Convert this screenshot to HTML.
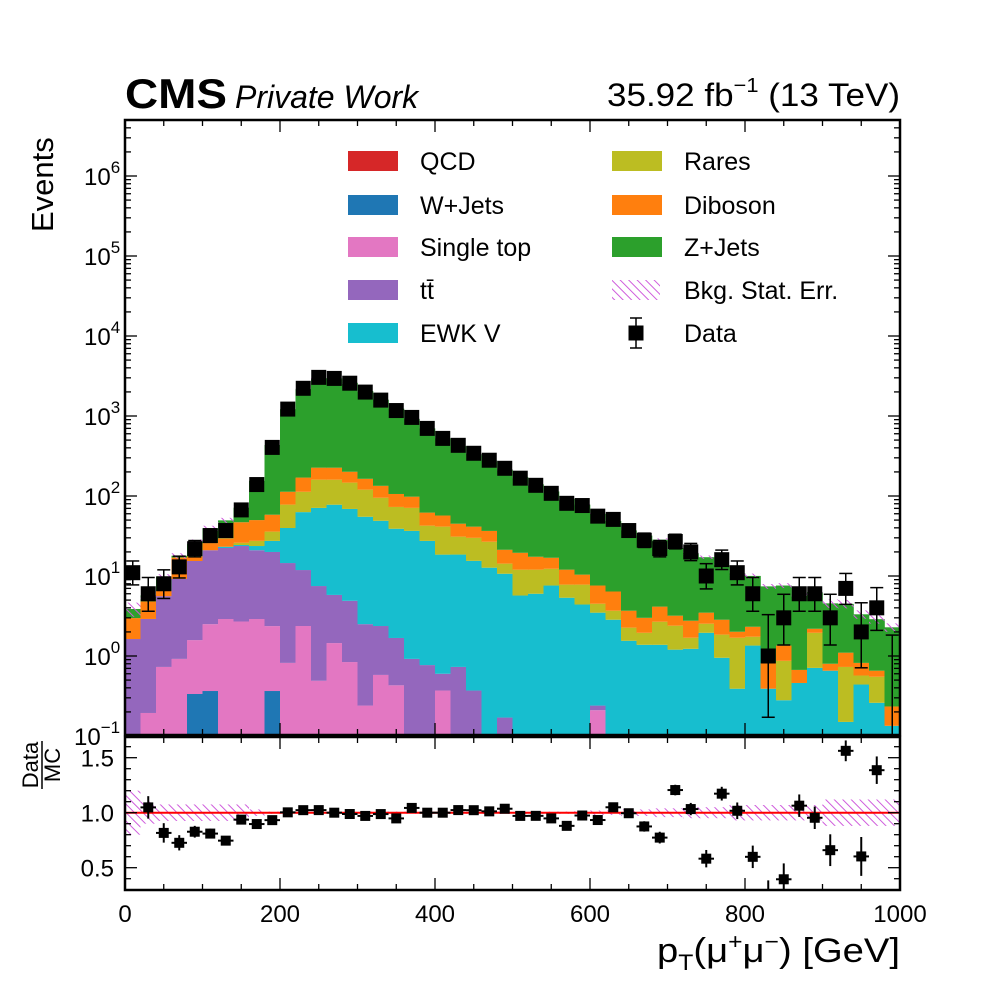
<!DOCTYPE html>
<html><head><meta charset="utf-8">
<style>
html,body{margin:0;padding:0;background:#fff;}
svg{display:block;font-family:"Liberation Sans","DejaVu Sans",sans-serif;}
</style></head>
<body>
<svg id="chart" width="1000" height="1000" viewBox="0 0 1000 1000" xmlns="http://www.w3.org/2000/svg">
<defs>
<pattern id="hatch" patternUnits="userSpaceOnUse" width="6" height="6" patternTransform="rotate(-45)">
<line x1="0" y1="0" x2="0" y2="6" stroke="#cf5ddc" stroke-width="2"/>
</pattern>
<clipPath id="mainClip"><rect x="125" y="120" width="775" height="615"/></clipPath>
<clipPath id="ratioClip"><rect x="125" y="737" width="775" height="153"/></clipPath>
</defs>
<rect x="0" y="0" width="1000" height="1000" fill="#fff"/>
<g id="mainPlot" clip-path="url(#mainClip)"></g>
<g id="ratioPlot" clip-path="url(#ratioClip)"></g>
<g id="axes"></g>
<text x="125" y="108" font-size="42" font-weight="bold" textLength="102" lengthAdjust="spacingAndGlyphs">CMS</text>
<text x="235" y="108" font-size="32" font-style="italic">Private Work</text>
<text x="900" y="106" font-size="32" text-anchor="end" textLength="293" lengthAdjust="spacingAndGlyphs">35.92 fb<tspan font-size="20" dy="-14">−1</tspan><tspan dy="14"> (13 TeV)</tspan></text>
<text transform="translate(53,232) rotate(-90)" font-size="31">Events</text>
<text x="900" y="962" font-size="34" text-anchor="end" textLength="243" lengthAdjust="spacingAndGlyphs">p<tspan font-size="22" dy="8">T</tspan><tspan dy="-8">(μ</tspan><tspan font-size="22" dy="-13">+</tspan><tspan dy="13">μ</tspan><tspan font-size="22" dy="-13">−</tspan><tspan dy="13">) [GeV]</tspan></text>
<g transform="translate(42,765) rotate(-90)">
<text x="0" y="-4" font-size="22" text-anchor="middle">Data</text>
<line x1="-24" y1="0" x2="24" y2="0" stroke="#000" stroke-width="1.5"/>
<text x="0" y="18" font-size="22" text-anchor="middle">MC</text>
</g>
<g id="legend"></g>
</svg>
<script>
const NS="http://www.w3.org/2000/svg";
const binEdges0=0, binWidth=20, nBins=50;
const seriesNames=["QCD","W+Jets","Single top","tt̄","EWK V","Rares","Diboson","Z+Jets"];
const seriesColors=["#d62728","#1f77b4","#e377c2","#9467bd","#17becf","#bcbd22","#ff7f0e","#2ca02c"];
const qcd=[0,0,0,0,0,0,0,0,0,0,0,0,0,0,0,0,0,0,0,0,0,0,0,0,0,0,0,0,0,0,0,0,0,0,0,0,0,0,0,0,0,0,0,0,0,0,0,0,0,0];
const wjets=[0,0,0,0,0.335,0.365,0,0,0,0.365,0,0,0,0,0,0,0,0,0,0,0,0,0,0,0,0,0,0,0,0,0,0,0,0,0,0,0,0,0,0,0,0,0,0,0,0,0,0,0,0];
const singletop=[0,0.194,0.73,0.92,1.245,2.135,2.9,2.7,2.9,2.0,0.82,2.37,0.49,1.45,0.84,0.24,0.58,0.43,0,0,0.37,0,0,0,0,0,0,0,0,0,0.21,0,0,0,0,0,0,0,0,0,0,0,0,0,0,0,0,0,0,0];
const ttbar=[1.63,2.71,4.87,8.28,13.82,18.5,19.5,21,18.1,17.6,13.7,9.5,7.0,4.35,4.06,2.26,1.79,1.25,0.92,0.77,0.23,0.73,0.37,0,0.17,0,0,0,0,0,0.03,0,0,0,0,0,0,0,0,0,0,0,0,0,0,0,0,0,0,0];
const ewk=[0,0,0,0,0,0,0.8,0.7,2.7,7.5,25.3,51,63.5,72,64,52.5,46.6,37.3,35.7,26.7,17.9,17.8,15.1,12.7,10.5,5.7,6,7.6,5.35,4.4,3.24,2.84,1.55,1.38,1.38,1.2,1.23,1.95,0.95,0.39,1.35,0.39,0.28,0.46,0.71,0.655,0.15,0.44,0.26,0.134];
const rares=[0,0,0,0,0,0,0,1.6,3.8,8.4,38.2,50,89,82,78,65,46,34,34.4,15.1,22.9,12.5,14.5,14.1,3.6,6.3,6,4.7,2.45,3.4,1.02,0.84,0.71,0.57,1.3,1.19,0.46,0.58,0.9,1.3,0.39,0,0.59,0,1.24,0,0.58,0.13,0.29,0];
const diboson=[1.35,1.9,0.9,7.8,2.2,4.8,6.4,21,22.5,22.5,35,57,66,66,54,44,39,33,27,19.4,15.6,14,11.4,9.8,7,7.5,5.4,4.6,4.2,2.6,3.1,2.72,1.42,1.05,1.46,0.8,1.07,0.95,0.99,0.32,0.58,0.43,0.48,0.21,0.24,0.145,0.37,0.25,0.105,0.1];
const zjets=[0.89,0.92,3.3,0.9,9,13.7,20,24.5,105,376,1103,2000,2744,2724,2400,1886,1466,1128,822,638,468,375,293,240,193,152.5,122.6,97,80,67.6,52.4,42.2,33.5,29,24.3,19.2,16.6,13.7,10.8,8.8,7.7,6.6,6.25,4.97,4.1,3.75,3.38,2.5,2.23,2.05];
const dataCounts=[11,6,8,13,22,32,37,67,139,405,1220,2220,3040,2950,2570,1990,1580,1170,960,700,525,430,342,280,222,167,136,108,81,76,56,51,37,28,22,27,20,10,16,11,6,1,3,6,6,3,7,2,4,0];
const bkgRelErr=[0.2,0.1,0.075,0.075,0.075,0.075,0.075,0.075,0.03,0.01,0.01,0.01,0.01,0.01,0.01,0.01,0.01,0.01,0.01,0.01,0.01,0.01,0.01,0.01,0.01,0.01,0.01,0.01,0.01,0.015,0.02,0.02,0.03,0.03,0.04,0.04,0.05,0.05,0.05,0.07,0.07,0.07,0.07,0.07,0.07,0.12,0.12,0.12,0.12,0.12];
const yTickExps=[-1,0,1,2,3,4,5,6];
const xTickLabels=[0,200,400,600,800,1000];
const ratioTickLabels=["0.5","1.0","1.5"];
const ratioTickVals=[0.5,1.0,1.5];

const X0=125,X1=900,Y0=120,Y1=735,RY0=737,RY1=890;
function xAt(g){return X0+(g/1000)*(X1-X0);}
function yAt(v){return 656-80*Math.log10(v);}
function yR(r){return 812.7-110*(r-1);}
function mk(tag,attrs,parent){const e=document.createElementNS(NS,tag);for(const k in attrs)e.setAttribute(k,attrs[k]);parent.appendChild(e);return e;}

const main=document.getElementById('mainPlot');
const ratio=document.getElementById('ratioPlot');
const axes=document.getElementById('axes');
const series=[qcd,wjets,singletop,ttbar,ewk,rares,diboson,zjets];
const total=[];
for(let i=0;i<nBins;i++){
  let cum=0;
  const xa=xAt(binEdges0+i*binWidth), xb=xAt(binEdges0+(i+1)*binWidth);
  for(let s=0;s<series.length;s++){
    const v=series[s][i]; if(!(v>0)){continue;}
    const lo=Math.max(cum,0.05), hi=cum+v; cum=hi;
    if(hi<=0.05) continue;
    const r=mk('rect',{x:xa,y:yAt(hi),width:xb-xa+0.3,height:Math.max(0,yAt(lo)-yAt(hi)),fill:seriesColors[s]},main);
    
    
  }
  total.push(cum);
}
for(let i=0;i<nBins;i++){
  const xa=xAt(i*binWidth), xb=xAt((i+1)*binWidth);
  const up=total[i]*(1+bkgRelErr[i]), dn=total[i]*(1-bkgRelErr[i]);
  const h=mk('rect',{x:xa,y:yAt(up),width:xb-xa,height:Math.max(1.5,yAt(dn)-yAt(up)),fill:"url(#hatch)"},main);
  
  
  const hr=mk('rect',{x:xa,y:yR(1+bkgRelErr[i]),width:xb-xa,height:Math.max(1.5,yR(1-bkgRelErr[i])-yR(1+bkgRelErr[i])),fill:"url(#hatch)"},ratio);
  
  
}
function poisLo(n){if(n<=0)return 0;return n*Math.pow(1-1/(9*n)-1/(3*Math.sqrt(n)),3);}
function poisHi(n){const m=n+1;return m*Math.pow(1-1/(9*m)+1/(3*Math.sqrt(m)),3);}
const rl=mk('line',{x1:X0,x2:X1,y1:yR(1),y2:yR(1),stroke:"#ff0000","stroke-width":2},ratio);


for(let i=0;i<nBins;i++){
  const n=dataCounts[i]; const cx=xAt((i+0.5)*binWidth);
  const hi=poisHi(n), lo=poisLo(n);
  const yh=yAt(hi), yl=lo>0?yAt(lo):800;
  const g=mk('g',{},main);
  
  
  mk('line',{x1:cx,x2:cx,y1:yh,y2:yl,stroke:"#000","stroke-width":1.5},g);
  mk('line',{x1:cx-6.5,x2:cx+6.5,y1:yh,y2:yh,stroke:"#000","stroke-width":1.5},g);
  if(lo>0)mk('line',{x1:cx-6.5,x2:cx+6.5,y1:yl,y2:yl,stroke:"#000","stroke-width":1.5},g);
  if(n>0)mk('rect',{x:cx-7.5,y:yAt(n)-7.5,width:15,height:15,fill:"#000"},g);
  if(n>0&&total[i]>0){
    const r=n/total[i], e=0.25/Math.sqrt(n);
    const gr=mk('g',{},ratio);
    
    
    mk('line',{x1:cx,x2:cx,y1:yR(r+e),y2:yR(r-e),stroke:"#000","stroke-width":2},gr);
    mk('line',{x1:xAt(i*binWidth),x2:xAt((i+1)*binWidth),y1:yR(r),y2:yR(r),stroke:"#000","stroke-width":2},gr);
    mk('rect',{x:cx-5,y:yR(r)-5,width:10,height:10,fill:"#000"},gr);
  }
}
function frame(y0,y1,name){const f=mk('rect',{x:X0,y:y0,width:X1-X0,height:y1-y0,fill:"none",stroke:"#000","stroke-width":2.5},axes);}
frame(Y0,Y1,'main-frame');frame(RY0,RY1,'ratio-frame');
function tick(x1,y1,x2,y2){mk('line',{x1,y1,x2,y2,stroke:"#000","stroke-width":1.3},axes);}
for(let g=0;g<=1000;g+=50){
  const x=xAt(g), L=(g%200===0)?12:6;
  tick(x,Y1,x,Y1-L);tick(x,Y0,x,Y0+L);tick(x,RY1,x,RY1-L);tick(x,RY0,x,RY0+L);
}
xTickLabels.forEach(v=>{const t=mk('text',{x:xAt(v),y:922,"font-size":24,"text-anchor":"middle"},axes);t.textContent=String(v);
});
for(let e=-1;e<=6;e++){
  for(let m=1;m<10;m++){
    const v=m*Math.pow(10,e); const y=yAt(v); if(y<Y0||y>Y1+1)continue;
    const L=m===1?12:6; tick(X0,y,X0+L,y);tick(X1,y,X1-L,y);
  }
}
yTickExps.forEach(e=>{const y=yAt(Math.pow(10,e));
  const t=mk('text',{x:e<0?74:84,y:y+9,"font-size":24},axes);
  
  t.innerHTML='10<tspan font-size="17" dy="-12">'+(e<0?'−'+(-e):e)+'</tspan>';});
for(let k=3;k<=16;k++){const r=k/10;const y=yR(r);if(y<RY0||y>RY1)continue;const L=(k%5===0)?12:6;tick(X0,y,X0+L,y);tick(X1,y,X1-L,y);}
ratioTickVals.forEach((v,i)=>{const t=mk('text',{x:114,y:yR(v)+9,"font-size":24,"text-anchor":"end"},axes);t.textContent=ratioTickLabels[i];
});
const leg=document.getElementById('legend');
const legEntries=[
 {l:"QCD",c:0,col:0,row:0},{l:"W+Jets",c:1,col:0,row:1},{l:"Single top",c:2,col:0,row:2},{l:"tt̄",c:3,col:0,row:3},{l:"EWK V",c:4,col:0,row:4},
 {l:"Rares",c:5,col:1,row:0},{l:"Diboson",c:6,col:1,row:1},{l:"Z+Jets",c:7,col:1,row:2},{l:"Bkg. Stat. Err.",c:-1,col:1,row:3},{l:"Data",c:-2,col:1,row:4}];
const rowsY=[161,205,247,290,333];
legEntries.forEach(en=>{
  const px=en.col===0?348:612, tx=en.col===0?420:684, y=rowsY[en.row];
  const g=mk('g',{},leg);
  
  
  if(en.c>=0)mk('rect',{x:px,y:y-10,width:50,height:20,fill:seriesColors[en.c]},g);
  else if(en.c===-1)mk('rect',{x:px,y:y-10,width:48,height:20,fill:"url(#hatch)"},g);
  else{const cx=636;mk('line',{x1:cx,x2:cx,y1:y-15,y2:y+15,stroke:"#000","stroke-width":1.5},g);
    mk('line',{x1:cx-6,x2:cx+6,y1:y-15,y2:y-15,stroke:"#000","stroke-width":1.5},g);
    mk('line',{x1:cx-6,x2:cx+6,y1:y+15,y2:y+15,stroke:"#000","stroke-width":1.5},g);
    mk('rect',{x:cx-7.5,y:y-7.5,width:15,height:15,fill:"#000"},g);}
  const t=mk('text',{x:tx,y:y+9,"font-size":25},g);t.textContent=en.l;
});
</script>
</body></html>
